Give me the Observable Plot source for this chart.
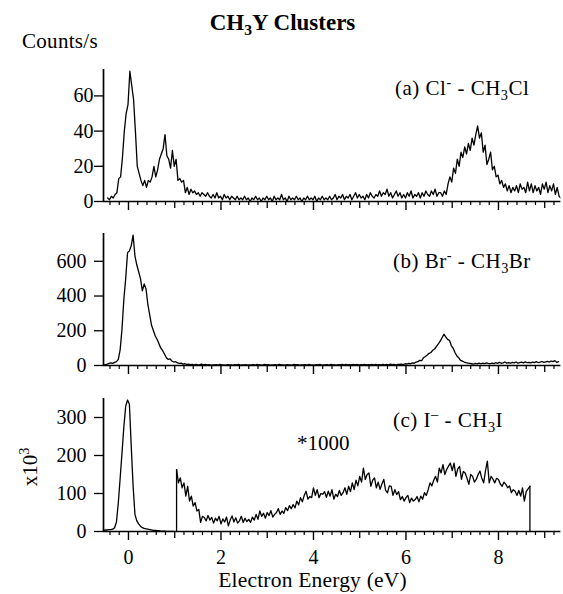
<!DOCTYPE html>
<html>
<head>
<meta charset="utf-8">
<script src="https://cdn.jsdelivr.net/npm/d3@7"></script>
<script src="https://cdn.jsdelivr.net/npm/@observablehq/plot@0.6"></script>
<style>
  html, body { margin: 0; padding: 0; background: #fff; }
  #chart { position: relative; width: 563px; height: 594px; overflow: hidden; background: #fff; }
  #chart svg { position: absolute; left: 0; }
</style>
</head>
<body>
<div id="chart"></div>
<script>
// Photoelectron spectra of CH3Y cluster anions, sampled every 0.04 eV
const energyStep = 0.04;

// (a) Cl- - CH3Cl, counts/s, first channel at -0.45 eV
const clStart = -0.45;
const clCounts = [
  2, 1, 3, 2, 4, 5, 13, 14, 25, 40,
  50, 55, 74, 66, 58, 40, 20, 16, 12, 9,
  12, 8, 12, 11, 14, 20, 14, 18, 24, 27,
  30, 38, 26, 24, 19, 29, 20, 24, 12, 13,
  11, 12, 5, 8, 4, 7, 5, 6, 4, 5,
  3, 5, 4, 3, 5, 3, 2, 4, 2, 5,
  2, 3, 1, 4, 2, 3, 1, 3, 2, 1,
  3, 1, 2, 1, 3, 1, 2, 0, 2, 1,
  3, 1, 2, 0, 2, 1, 3, 1, 2, 0,
  3, 1, 2, 1, 4, 1, 2, 0, 3, 1,
  2, 1, 3, 1, 2, 0, 2, 1, 3, 1,
  2, 1, 3, 0, 2, 1, 3, 1, 2, 1,
  3, 1, 2, 4, 1, 3, 2, 4, 1, 3,
  2, 4, 1, 3, 5, 2, 4, 2, 3, 1,
  4, 2, 5, 3, 2, 4, 3, 6, 3, 5,
  4, 7, 3, 5, 2, 4, 6, 3, 5, 2,
  4, 2, 5, 3, 6, 2, 4, 3, 5, 2,
  5, 3, 6, 4, 3, 6, 4, 7, 3, 5,
  5, 3, 6, 4, 10, 14, 11, 19, 16, 24,
  20, 28, 25, 31, 27, 33, 29, 36, 32, 38,
  43, 36, 39, 28, 32, 21, 24, 28, 18, 20,
  14, 15, 10, 12, 8, 10, 6, 9, 5, 8,
  6, 9, 5, 10, 7, 8, 5, 11, 6, 10,
  5, 9, 6, 8, 4, 10, 7, 11, 5, 9,
  6, 10, 4, 8, 3, 2
];

// (b) Br- - CH3Br, counts/s, first channel at -0.54 eV
const brStart = -0.54;
const brCounts = [
  0, 5, 8, 12, 15, 12, 18, 22, 35, 90,
  210, 380, 500, 650, 660, 690, 750, 630, 580, 540,
  500, 430, 470, 440, 350, 290, 230, 200, 170, 150,
  125, 100, 85, 65, 45, 35, 38, 25, 20, 22,
  15, 12, 14, 8, 10, 6, 8, 5, 7, 4,
  6, 3, 5, 8, 4, 6, 3, 5, 2, 4,
  3, 5, 2, 6, 3, 4, 2, 5, 3, 4,
  2, 5, 3, 6, 2, 4, 3, 5, 2, 4,
  3, 5, 2, 6, 3, 4, 2, 7, 3, 5,
  2, 4, 3, 5, 2, 6, 3, 4, 2, 5,
  3, 4, 2, 6, 3, 5, 2, 4, 3, 5,
  2, 6, 3, 4, 2, 5, 3, 6, 2, 4,
  3, 5, 2, 7, 3, 4, 2, 5, 3, 6,
  4, 6, 3, 5, 4, 7, 3, 6, 4, 5,
  3, 6, 4, 5, 3, 7, 4, 6, 3, 5,
  4, 7, 3, 6, 4, 8, 5, 6, 4, 7,
  6, 8, 5, 10, 8, 12, 10, 15, 13, 20,
  22, 30, 28, 45, 52, 60, 70, 75, 88, 95,
  110, 125, 140, 160, 180, 165, 150, 145, 115, 100,
  75, 55, 45, 30, 25, 20, 16, 14, 12, 10,
  8, 12, 9, 14, 10, 13, 11, 15, 12, 10,
  14, 11, 16, 12, 18, 13, 15, 20, 14, 16,
  13, 18, 15, 20, 14, 17, 19, 15, 21, 16,
  18, 15, 20, 17, 22, 16, 19, 23, 18, 21,
  24, 20, 26, 22, 28, 18, 22
];

// (c) I- - CH3I, in units of 10^3: direct detachment peak from -0.54 eV
const iStart = -0.54;
const iCounts = [
  3, 4, 4, 5, 5, 6, 10, 25, 75, 140,
  207, 275, 330, 346, 335, 224, 120, 45, 28, 20,
  14, 10, 8, 7, 6, 5, 4, 3, 3, 2,
  2, 1, 1, 1, 0, 0, 0, 0, 0
];

// (c) high-energy part, shown multiplied by 1000, from 1.04 eV
const iScaledStart = 1.04;
const iScaledCounts = [
  163, 128, 141, 115, 128, 93, 119, 80, 93, 67,
  76, 54, 58, 24, 40, 37, 28, 42, 30, 37,
  22, 35, 28, 40, 20, 33, 25, 38, 15, 30,
  41, 25, 36, 22, 28, 40, 24, 35, 26, 32,
  24, 38, 30, 45, 32, 54, 40, 48, 35, 50,
  42, 55, 38, 45, 50, 60, 45, 54, 48, 63,
  55, 68, 60, 71, 62, 80, 70, 89, 78, 95,
  106, 85, 92, 89, 115, 95, 110, 89, 100, 98,
  105, 90, 106, 93, 110, 85, 98, 92, 108, 95,
  102, 115, 98, 119, 105, 128, 110, 135, 120, 145,
  130, 167, 137, 150, 154, 119, 135, 141, 115, 130,
  111, 125, 137, 108, 102, 120, 119, 95, 110, 97,
  105, 84, 92, 80, 89, 95, 76, 88, 80, 84,
  92, 78, 93, 85, 102, 95, 110, 128, 120, 135,
  145, 130, 167, 154, 176, 150, 163, 172, 180, 160,
  180, 145, 165, 171, 137, 158, 154, 140, 124, 150,
  145, 130, 137, 150, 159, 140, 128, 160, 185, 128,
  145, 138, 128, 140, 137, 125, 119, 130, 124, 115,
  120, 102, 110, 106, 95, 108, 93, 115, 80, 105,
  112, 119
];

// Axis ticks
const yTicksA = [0, 20, 40, 60];
const yTicksB = [0, 200, 400, 600];
const yTicksC = [0, 100, 200, 300];
const xTickLabels = [0, 2, 4, 6, 8];
const xDomain = [-0.54, 9.35];

const serif = "'Liberation Serif', 'Times New Roman', serif";

function series(start, values) {
  return values.map((v, i) => ({ e: +(start + i * energyStep).toFixed(2), v }));
}

const minorTicks = d3.range(-2, 47).map(i => +(i * 0.2).toFixed(1)).filter(t => t % 1 !== 0);
const unitTicks = d3.range(0, 10).filter(t => t % 2 === 1);

function panel({ lines, edges = [], yDomain, yTicks, top, height, marginBottom, labelPad, showX }) {
  const svg = Plot.plot({
    width: 563,
    height,
    marginLeft: 103,
    marginRight: 2.6,
    marginTop: 9,
    marginBottom,
    x: { domain: xDomain },
    y: { domain: yDomain },
    style: { fontFamily: serif, color: "black", background: "transparent", overflow: "visible" },
    marks: [
      Plot.axisY({ ticks: yTicks, tickSize: 9, tickPadding: labelPad, label: null, fontSize: 20, fontFamily: serif, strokeWidth: 1.3 }),
      Plot.axisX({ ticks: minorTicks, tickSize: 4, tickFormat: () => "", label: null, strokeWidth: 1.2 }),
      Plot.axisX({ ticks: unitTicks, tickSize: 7, tickFormat: () => "", label: null, strokeWidth: 1.3 }),
      Plot.axisX({
        ticks: xTickLabels, tickSize: 9, tickPadding: 9, label: null, fontSize: 20, fontFamily: serif, strokeWidth: 1.4,
        tickFormat: showX ? d => String(d) : () => ""
      }),
      Plot.ruleY([0], { stroke: "black", strokeWidth: 1.7 }),
      Plot.ruleX([xDomain[0]], { stroke: "black", strokeWidth: 1.7 }),
      Plot.ruleX(edges, { x: "e", y1: 0, y2: "v", stroke: "black", strokeWidth: 1.3 }),
      ...lines.map(data => Plot.line(data, { x: "e", y: "v", stroke: "black", strokeWidth: 1.3, clip: true }))
    ]
  });
  svg.style.top = top + "px";
  return svg;
}

const chart = document.getElementById("chart");

chart.appendChild(panel({
  lines: [series(clStart, clCounts)],
  yDomain: [0, 75], yTicks: yTicksA, top: 60, height: 154, marginBottom: 13, labelPad: 1, showX: false
}));

chart.appendChild(panel({
  lines: [series(brStart, brCounts)],
  yDomain: [0, 760], yTicks: yTicksB, top: 224, height: 154, marginBottom: 13, labelPad: 8, showX: false
}));

const iScaled = series(iScaledStart, iScaledCounts);
chart.appendChild(panel({
  lines: [series(iStart, iCounts), iScaled],
  edges: [iScaled[0], iScaled[iScaled.length - 1]],
  yDomain: [0, 350], yTicks: yTicksC, top: 389, height: 182, marginBottom: 40, labelPad: 8, showX: true
}));

// Titles, panel labels and axis labels
const overlay = d3.select(chart).append("svg")
  .attr("width", 563).attr("height", 594)
  .style("top", "0px")
  .style("pointer-events", "none");

function richText(x, y, size, parts, attrs = {}) {
  const t = overlay.append("text")
    .attr("x", x).attr("y", y)
    .attr("font-family", serif)
    .attr("font-size", size)
    .attr("fill", "black");
  for (const [k, v] of Object.entries(attrs)) t.attr(k, v);
  let shift = 0;
  for (const p of parts) {
    const [str, kind] = typeof p === "string" ? [p, null] : p;
    const target = kind === "sub" ? size * 0.22 : kind === "sup" ? -size * 0.4 : 0;
    const span = t.append("tspan").attr("dy", target - shift).text(str);
    if (kind) span.attr("font-size", size * 0.68);
    shift = target;
  }
  return t;
}

richText(282.5, 30, 23, ["CH", ["3", "sub"], "Y Clusters"], { "text-anchor": "middle", "font-weight": "bold" });
richText(22, 48, 21, ["Counts/s"], { "letter-spacing": 0.3 });
richText(395, 95, 21, ["(a) Cl", ["-", "sup"], " - CH", ["3", "sub"], "Cl"], { "letter-spacing": 0.5 });
richText(393, 268, 21, ["(b) Br", ["-", "sup"], " - CH", ["3", "sub"], "Br"], { "letter-spacing": 0.5 });
richText(393, 427, 21, ["(c) I", ["\u2013", "sup"], " - CH", ["3", "sub"], "I"], { "letter-spacing": 0.5 });
richText(297, 450, 21, ["*1000"]);
richText(0, 0, 21, ["x10", ["3", "sup"]], { "text-anchor": "middle", "transform": "translate(37,467) rotate(-90)" });
richText(312.5, 587, 21.5, ["Electron Energy (eV)"], { "text-anchor": "middle", "letter-spacing": 0.2 });
</script>
</body>
</html>
